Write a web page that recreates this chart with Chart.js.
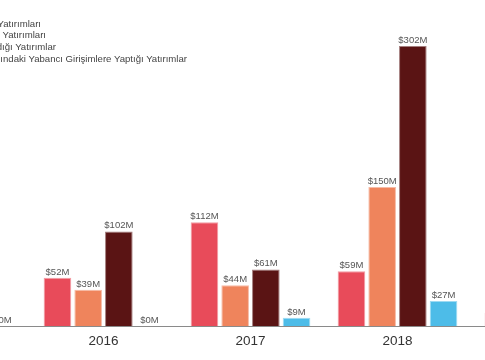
<!DOCTYPE html>
<html lang="tr">
<head>
<meta charset="utf-8">
<script src="https://cdn.jsdelivr.net/npm/chart.js@4/dist/chart.umd.min.js"></script>
<style>
  html, body { margin: 0; padding: 0; background: #fff; }
  body { width: 485px; height: 360px; overflow: hidden; position: relative; font-family: "Liberation Sans", Arial, Helvetica, sans-serif; }
  #wrap { position: absolute; left: -117px; top: 0; width: 735px; height: 360px; }
  .lg { position: absolute; white-space: nowrap; font-size: 9.6px; line-height: 12px; color: #444; }
  .lg i { display: inline-block; width: 8px; height: 8px; margin-right: 5px; vertical-align: -1px; }
</style>
</head>
<body>
<div id="wrap"><canvas id="c" width="735" height="360"></canvas></div>
<div id="legend"></div>
<script>
// ---- data ----
const years = ['2015', '2016', '2017', '2018', '2019'];
const seriesNames = [
  'Türk Yatırımcıların Türk Girişimlere Yatırımları',
  'Türk Girişimlerine Yabancı Yatırımcılar Yatırımları',
  'Türk Girişimlerin Yurt Dışında Aldığı Yatırımlar',
  'Türk Yatırımcıların Yurt Dışındaki Yabancı Girişimlere Yaptığı Yatırımlar'
];
const localInvestments   = [40, 52, 112, 59, 14];
const foreignInvestments = [30, 39, 44, 150, 60];
const abroadInvestments  = [20, 102, 61, 302, 90];
const outboundInvestments = [0, 0, 9, 27, 20];

// ---- styles ----
const fills   = ['#E84B5A', '#EF845C', '#5A1414', '#4DBCE8'];
const borders = ['rgba(232,75,90,0.55)', 'rgba(239,132,92,0.55)', 'rgba(90,20,20,0.55)', 'rgba(77,188,232,0.55)'];
const seriesData = [localInvestments, foreignInvestments, abroadInvestments, outboundInvestments];

// legend (html overlay, right edges taken from the reference crop)
const legendRight = [41, 46, 56, 187];
const legendTop = [17.5, 29, 41, 52.7];
const lg = document.getElementById('legend');
seriesNames.forEach((n, i) => {
  const d = document.createElement('div');
  d.className = 'lg';
  d.style.right = (485 - legendRight[i]) + 'px';
  d.style.top = legendTop[i] + 'px';
  d.innerHTML = '<i style="background:' + fills[i] + '"></i>' + n;
  lg.appendChild(d);
});

const valueLabels = {
  id: 'valueLabels',
  afterDatasetsDraw(chart) {
    const ctx = chart.ctx;
    ctx.save();
    ctx.font = '9.5px "Liberation Sans", Arial, sans-serif';
    ctx.fillStyle = '#555';
    ctx.textAlign = 'center';
    ctx.textBaseline = 'alphabetic';
    chart.data.datasets.forEach((ds, di) => {
      const meta = chart.getDatasetMeta(di);
      meta.data.forEach((el, i) => {
        const v = ds.data[i];
        if (v === null || v === undefined) return;
        ctx.fillText('$' + v + 'M', el.x, el.y - 3);
      });
    });
    ctx.restore();
  }
};

new Chart(document.getElementById('c'), {
  type: 'bar',
  data: {
    labels: years,
    datasets: seriesData.map((d, i) => ({
      label: seriesNames[i],
      data: d,
      backgroundColor: fills[i],
      borderColor: borders[i],
      borderWidth: 1,
      barPercentage: 0.9,
      categoryPercentage: 0.835
    }))
  },
  options: {
    responsive: false,
    devicePixelRatio: 1,
    animation: false,
    layout: { padding: { top: 20, left: 0, right: 0, bottom: 0 } },
    plugins: { legend: { display: false }, tooltip: { enabled: false } },
    scales: {
      x: {
        offset: true,
        grid: { display: false, drawTicks: false },
        border: { display: true, color: '#8a8a8a', width: 1 },
        ticks: { color: '#333', padding: 7, font: { size: 13.5, family: '"Liberation Sans", Arial, sans-serif' } },
        afterFit: s => { s.height = 34; }
      },
      y: { display: false, min: 0, max: 330 }
    }
  },
  plugins: [valueLabels]
});
</script>
</body>
</html>
